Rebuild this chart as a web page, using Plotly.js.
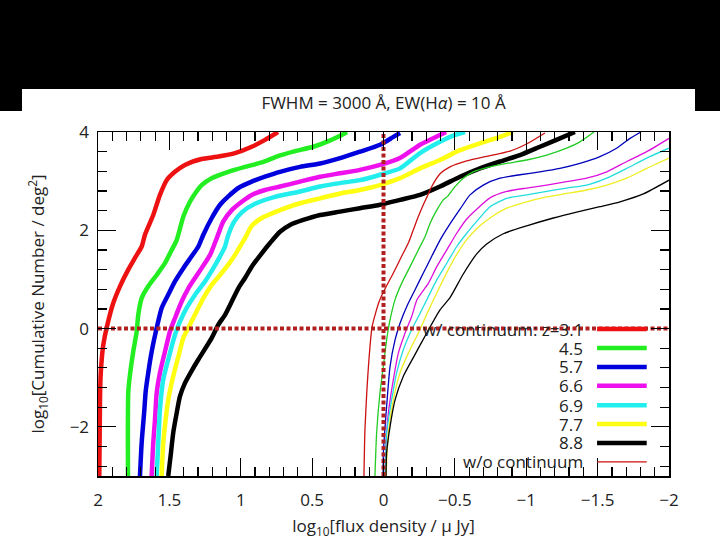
<!DOCTYPE html>
<html>
<head>
<meta charset="utf-8">
<script src="https://cdn.plot.ly/plotly-3.0.1.min.js"></script>
<style>
  html, body { margin:0; padding:0; background:#fff; }
  #wrap { position:relative; width:720px; height:540px; overflow:hidden; background:#fff; }
  #chart { position:absolute; left:0; top:0; width:720px; height:540px; }
  .blk { position:absolute; background:#000; z-index:5; }
</style>
</head>
<body>
<div id="wrap">
  <div id="chart"></div>
  <div class="blk" style="left:0;top:0;width:720px;height:89px;"></div>
  <div class="blk" style="left:0;top:89px;width:22px;height:22px;"></div>
  <div class="blk" style="left:695px;top:89px;width:25px;height:22px;"></div>
</div>
<script>
// ---------- data (log10 flux density [µJy], log10 cumulative number [deg^-2]) ----------
// with continuum (thick lines)
const zLabels = ["w/ continuum: z=3.1", "4.5", "5.7", "6.6", "6.9", "7.7", "8.8"];
const colors  = ["#ee1111", "#22ee22", "#0000dd", "#ee11ee", "#22eeee", "#ffff11", "#000000"];
const thinColors = ["#cc1111", "#22cc22", "#0000bb", "#dd11dd", "#22dddd", "#eeee22", "#000000"];

const wc_z31_x = [1.991,1.986,1.982,1.974,1.963,1.939,1.893,1.846,1.788,1.741,1.694,1.671,1.613,1.566,1.519,1.461,1.391,1.274,1.157,1.040,0.923,0.830,0.739];
const wc_z31_y = [-3.0,-1.45,-0.98,-0.63,-0.33,0.02,0.52,0.86,1.20,1.44,1.67,1.91,2.31,2.72,3.02,3.19,3.33,3.45,3.50,3.57,3.70,3.84,4.0];

const wc_z45_x = [1.790,1.788,1.776,1.753,1.729,1.718,1.694,1.648,1.589,1.531,1.496,1.449,1.402,1.356,1.320,1.274,1.204,1.087,0.970,0.853,0.748,0.632,0.492,0.398,0.293,0.256];
const wc_z45_y = [-3.0,-1.30,-0.94,-0.47,-0.06,0.28,0.62,0.86,1.09,1.33,1.53,1.80,2.28,2.58,2.75,2.92,3.06,3.19,3.29,3.38,3.50,3.60,3.70,3.80,3.94,4.0];

const wc_z57_x = [1.706,1.694,1.676,1.666,1.648,1.624,1.589,1.554,1.508,1.461,1.402,1.344,1.297,1.262,1.203,1.145,1.087,1.017,0.923,0.830,0.725,0.585,0.444,0.304,0.165,0.024,-0.069,-0.116];
const wc_z57_y = [-3.0,-2.32,-1.68,-1.28,-0.90,-0.47,0.01,0.42,0.69,0.96,1.23,1.47,1.67,1.91,2.25,2.52,2.69,2.86,2.99,3.09,3.19,3.29,3.36,3.47,3.60,3.74,3.90,3.98];

const wc_z66_x = [1.624,1.613,1.601,1.589,1.566,1.531,1.496,1.461,1.414,1.367,1.320,1.274,1.215,1.168,1.122,1.063,0.993,0.923,0.830,0.725,0.585,0.444,0.304,0.165,0.024,-0.116,-0.256,-0.396,-0.438];
const wc_z66_y = [-3.0,-2.33,-1.86,-1.31,-0.90,-0.47,-0.06,0.21,0.55,0.82,1.03,1.23,1.50,1.84,2.18,2.41,2.58,2.72,2.82,2.89,2.99,3.09,3.16,3.23,3.33,3.47,3.74,3.94,4.0];

const wc_z69_x = [1.589,1.578,1.566,1.543,1.508,1.461,1.426,1.379,1.320,1.250,1.192,1.145,1.110,1.089,1.047,0.991,0.900,0.760,0.585,0.444,0.304,0.165,0.024,-0.116,-0.256,-0.396,-0.501,-0.571];
const wc_z69_y = [-3.0,-2.33,-1.65,-1.04,-0.63,-0.13,0.14,0.42,0.69,0.96,1.23,1.47,1.67,1.89,2.17,2.37,2.54,2.68,2.79,2.89,2.96,3.02,3.13,3.26,3.57,3.80,3.94,4.0];

const wc_z77_x = [1.554,1.543,1.526,1.508,1.473,1.437,1.402,1.356,1.309,1.262,1.203,1.145,1.087,1.040,1.005,0.970,0.923,0.853,0.760,0.585,0.444,0.304,0.165,0.024,-0.116,-0.256,-0.396,-0.536,-0.676,-0.816,-0.907];
const wc_z77_y = [-3.0,-2.33,-1.85,-1.45,-0.97,-0.57,-0.19,0.08,0.35,0.62,0.89,1.09,1.30,1.50,1.67,1.84,2.09,2.25,2.37,2.55,2.65,2.75,2.82,2.92,3.06,3.26,3.43,3.63,3.77,3.90,4.0];

const wc_z88_x = [1.508,1.489,1.473,1.449,1.426,1.391,1.344,1.297,1.203,1.157,1.110,1.063,1.017,0.970,0.923,0.853,0.795,0.725,0.655,0.562,0.444,0.304,0.165,0.024,-0.116,-0.256,-0.396,-0.536,-0.676,-0.816,-0.956,-1.096,-1.236,-1.341];
const wc_z88_y = [-3.0,-2.53,-2.12,-1.72,-1.38,-1.11,-0.86,-0.63,-0.19,0.08,0.28,0.55,0.82,1.03,1.26,1.53,1.74,1.97,2.11,2.21,2.31,2.38,2.45,2.52,2.62,2.72,2.89,3.09,3.26,3.40,3.53,3.70,3.87,4.0];

// without continuum (thin lines)
const nc_z31_x = [0.137,0.130,0.116,0.102,0.081,0.053,0.025,-0.018,-0.069,-0.127,-0.174,-0.209,-0.244,-0.279,-0.305,-0.338,-0.396,-0.466,-0.583,-0.732,-0.886,-1.005,-1.131];
const nc_z31_y = [-3.0,-2.06,-1.24,-0.63,0.02,0.34,0.59,0.85,1.13,1.47,1.74,2.01,2.28,2.52,2.68,2.89,3.15,3.29,3.41,3.51,3.61,3.76,3.98];

const nc_z45_x = [0.060,0.048,0.025,0.001,-0.022,-0.046,-0.081,-0.127,-0.186,-0.244,-0.291,-0.326,-0.373,-0.419,-0.452,-0.501,-0.559,-0.629,-0.746,-0.863,-1.003,-1.143,-1.283,-1.376,-1.475];
const nc_z45_y = [-3.0,-2.12,-1.31,-0.77,-0.23,0.18,0.59,0.92,1.26,1.60,1.87,2.14,2.41,2.62,2.70,2.89,3.06,3.19,3.29,3.36,3.43,3.53,3.67,3.80,4.0];

const nc_z57_x = [0.003,0.001,-0.022,-0.046,-0.081,-0.116,-0.163,-0.221,-0.279,-0.338,-0.396,-0.466,-0.536,-0.606,-0.699,-0.816,-0.956,-1.096,-1.236,-1.376,-1.516,-1.633,-1.727,-1.804];
const nc_z57_y = [-3.0,-2.53,-1.58,-0.77,-0.23,0.11,0.45,0.79,1.13,1.47,1.80,2.13,2.43,2.72,2.92,3.06,3.13,3.19,3.26,3.36,3.50,3.67,3.87,4.0];

const nc_z66_x = [-0.011,-0.014,-0.034,-0.069,-0.104,-0.151,-0.198,-0.235,-0.314,-0.373,-0.443,-0.513,-0.583,-0.653,-0.746,-0.863,-1.003,-1.143,-1.283,-1.423,-1.564,-1.704,-1.844,-2.0];
const nc_z66_y = [-3.0,-2.53,-1.72,-1.04,-0.50,-0.09,0.25,0.59,0.92,1.26,1.60,1.94,2.23,2.43,2.66,2.79,2.86,2.92,2.99,3.06,3.19,3.40,3.60,3.87];

const nc_z69_x = [-0.011,-0.022,-0.057,-0.092,-0.139,-0.198,-0.256,-0.314,-0.373,-0.443,-0.513,-0.583,-0.653,-0.746,-0.863,-1.003,-1.143,-1.283,-1.423,-1.564,-1.704,-1.844,-2.0];
const nc_z69_y = [-3.0,-2.12,-1.45,-0.90,-0.43,-0.02,0.31,0.65,0.99,1.33,1.67,1.94,2.18,2.48,2.65,2.72,2.79,2.86,2.92,3.06,3.26,3.47,3.67];

const nc_z77_x = [-0.018,-0.034,-0.069,-0.116,-0.174,-0.244,-0.314,-0.384,-0.454,-0.524,-0.594,-0.676,-0.746,-0.863,-1.003,-1.143,-1.283,-1.423,-1.564,-1.704,-1.844,-2.0];
const nc_z77_y = [-3.0,-2.12,-1.45,-0.90,-0.50,-0.09,0.36,0.79,1.20,1.56,1.85,2.09,2.25,2.45,2.58,2.68,2.75,2.82,2.92,3.06,3.26,3.47];

const nc_z88_x = [-0.018,-0.022,-0.046,-0.081,-0.139,-0.209,-0.303,-0.396,-0.466,-0.559,-0.653,-0.723,-0.839,-1.003,-1.190,-1.353,-1.516,-1.657,-1.820,-2.0];
const nc_z88_y = [-3.0,-2.53,-1.99,-1.45,-0.97,-0.59,-0.09,0.38,0.63,1.11,1.52,1.72,1.93,2.09,2.25,2.37,2.48,2.58,2.74,3.02];

// reference lines (flux = 1 µJy, N = 1 deg^-2)
const refH_x = [2, -2], refH_y = [0, 0];
const refV_x = [0, 0],  refV_y = [-3, 4];

// ticks
const xTickVals = [2, 1.5, 1, 0.5, 0, -0.5, -1, -1.5, -2];
const yTickVals = [-2, 0, 2, 4];

// ---------- build ----------
const wcX = [wc_z31_x, wc_z45_x, wc_z57_x, wc_z66_x, wc_z69_x, wc_z77_x, wc_z88_x];
const wcY = [wc_z31_y, wc_z45_y, wc_z57_y, wc_z66_y, wc_z69_y, wc_z77_y, wc_z88_y];
const ncX = [nc_z31_x, nc_z45_x, nc_z57_x, nc_z66_x, nc_z69_x, nc_z77_x, nc_z88_x];
const ncY = [nc_z31_y, nc_z45_y, nc_z57_y, nc_z66_y, nc_z69_y, nc_z77_y, nc_z88_y];

const traces = [];
for (let i = 0; i < 7; i++) {
  traces.push({x: wcX[i], y: wcY[i], mode: 'lines', showlegend: false, hoverinfo: 'skip',
    line: {color: colors[i], width: 4.5, shape: 'spline', smoothing: 0.6}});
}
for (let i = 0; i < 7; i++) {
  traces.push({x: ncX[i], y: ncY[i], mode: 'lines', showlegend: false, hoverinfo: 'skip',
    line: {color: thinColors[i], width: 1.3, shape: 'spline', smoothing: 0.6}});
}
const refColor = '#b02020';
traces.push({x: refH_x, y: refH_y, mode: 'lines', showlegend: false, hoverinfo: 'skip',
  line: {color: refColor, width: 4, dash: '4px,2.5px'}});
traces.push({x: refV_x, y: refV_y, mode: 'lines', showlegend: false, hoverinfo: 'skip',
  line: {color: refColor, width: 4, dash: '4px,2.5px'}});

// legend drawn as text + samples (text left of sample, as in the original)
const legTexts = zLabels.concat(["w/o continuum"]);
const rowY = [0.427, 0.372, 0.317, 0.262, 0.206, 0.151, 0.096, 0.041];
const annotations = [];
const shapes = [];
for (let i = 0; i < legTexts.length; i++) {
  annotations.push({xref: 'paper', yref: 'paper', x: 0.853, y: rowY[i], xanchor: 'right', yanchor: 'middle',
    text: legTexts[i], showarrow: false, font: {size: 17, color: '#222'}});
  shapes.push({type: 'line', xref: 'paper', yref: 'paper', x0: 0.874, x1: 0.961, y0: rowY[i], y1: rowY[i],
    line: {color: i < 7 ? colors[i] : thinColors[0], width: i < 7 ? 4.5 : 1.3}});
}

const font = {family: '"Open Sans", "Noto Sans", sans-serif', size: 17, color: '#222'};

const layout = {
  width: 720, height: 540,
  paper_bgcolor: '#ffffff', plot_bgcolor: '#ffffff',
  margin: {l: 98, r: 51, t: 132, b: 64, pad: 0},
  font: font,
  title: {text: 'FWHM = 3000 Å, EW(H<i>α</i>) = 10 Å', x: 0.5, xref: 'paper', xanchor: 'center',
          y: 1 - 103/540, yanchor: 'middle', yref: 'container', font: {size: 17, color: '#222'}},
  xaxis: {
    range: [2, -2], tickmode: 'array', tickvals: xTickVals, ticktext: xTickVals.map(v => v === 0 ? '0' : (v < 0 ? '−' + Math.abs(v) : String(v))),
    ticks: 'inside', ticklen: 18, tickwidth: 1.2, tickcolor: '#000',
    minor: {dtick: 0.1, tick0: 0, ticks: 'inside', ticklen: 9, tickwidth: 1.2, tickcolor: '#000', showgrid: false},
    showline: true, linecolor: '#000', linewidth: 1.5, mirror: 'ticks',
    showgrid: false, zeroline: false, ticklabelstandoff: 8,
    tickfont: {size: 17, color: '#222'},
    title: {text: 'log<sub>10</sub>[flux density / μ Jy]', standoff: 10, font: {size: 17, color: '#222'}}
  },
  yaxis: {
    range: [-3, 4], tickmode: 'array', tickvals: yTickVals, ticktext: yTickVals.map(v => v < 0 ? '−' + Math.abs(v) : String(v)),
    ticks: 'inside', ticklen: 18, tickwidth: 1.2, tickcolor: '#000',
    minor: {dtick: 0.4, tick0: 0, ticks: 'inside', ticklen: 9, tickwidth: 1.2, tickcolor: '#000', showgrid: false},
    showline: true, linecolor: '#000', linewidth: 1.5, mirror: 'ticks',
    showgrid: false, zeroline: false, ticklabelstandoff: 4,
    tickfont: {size: 17, color: '#222'},
    title: {text: 'log<sub>10</sub>[Cumulative Number / deg<sup>2</sup>]', standoff: 20, font: {size: 17, color: '#222'}}
  },
  annotations: annotations,
  shapes: shapes
};

Plotly.newPlot('chart', traces, layout, {staticPlot: true, displayModeBar: false});
</script>
</body>
</html>
